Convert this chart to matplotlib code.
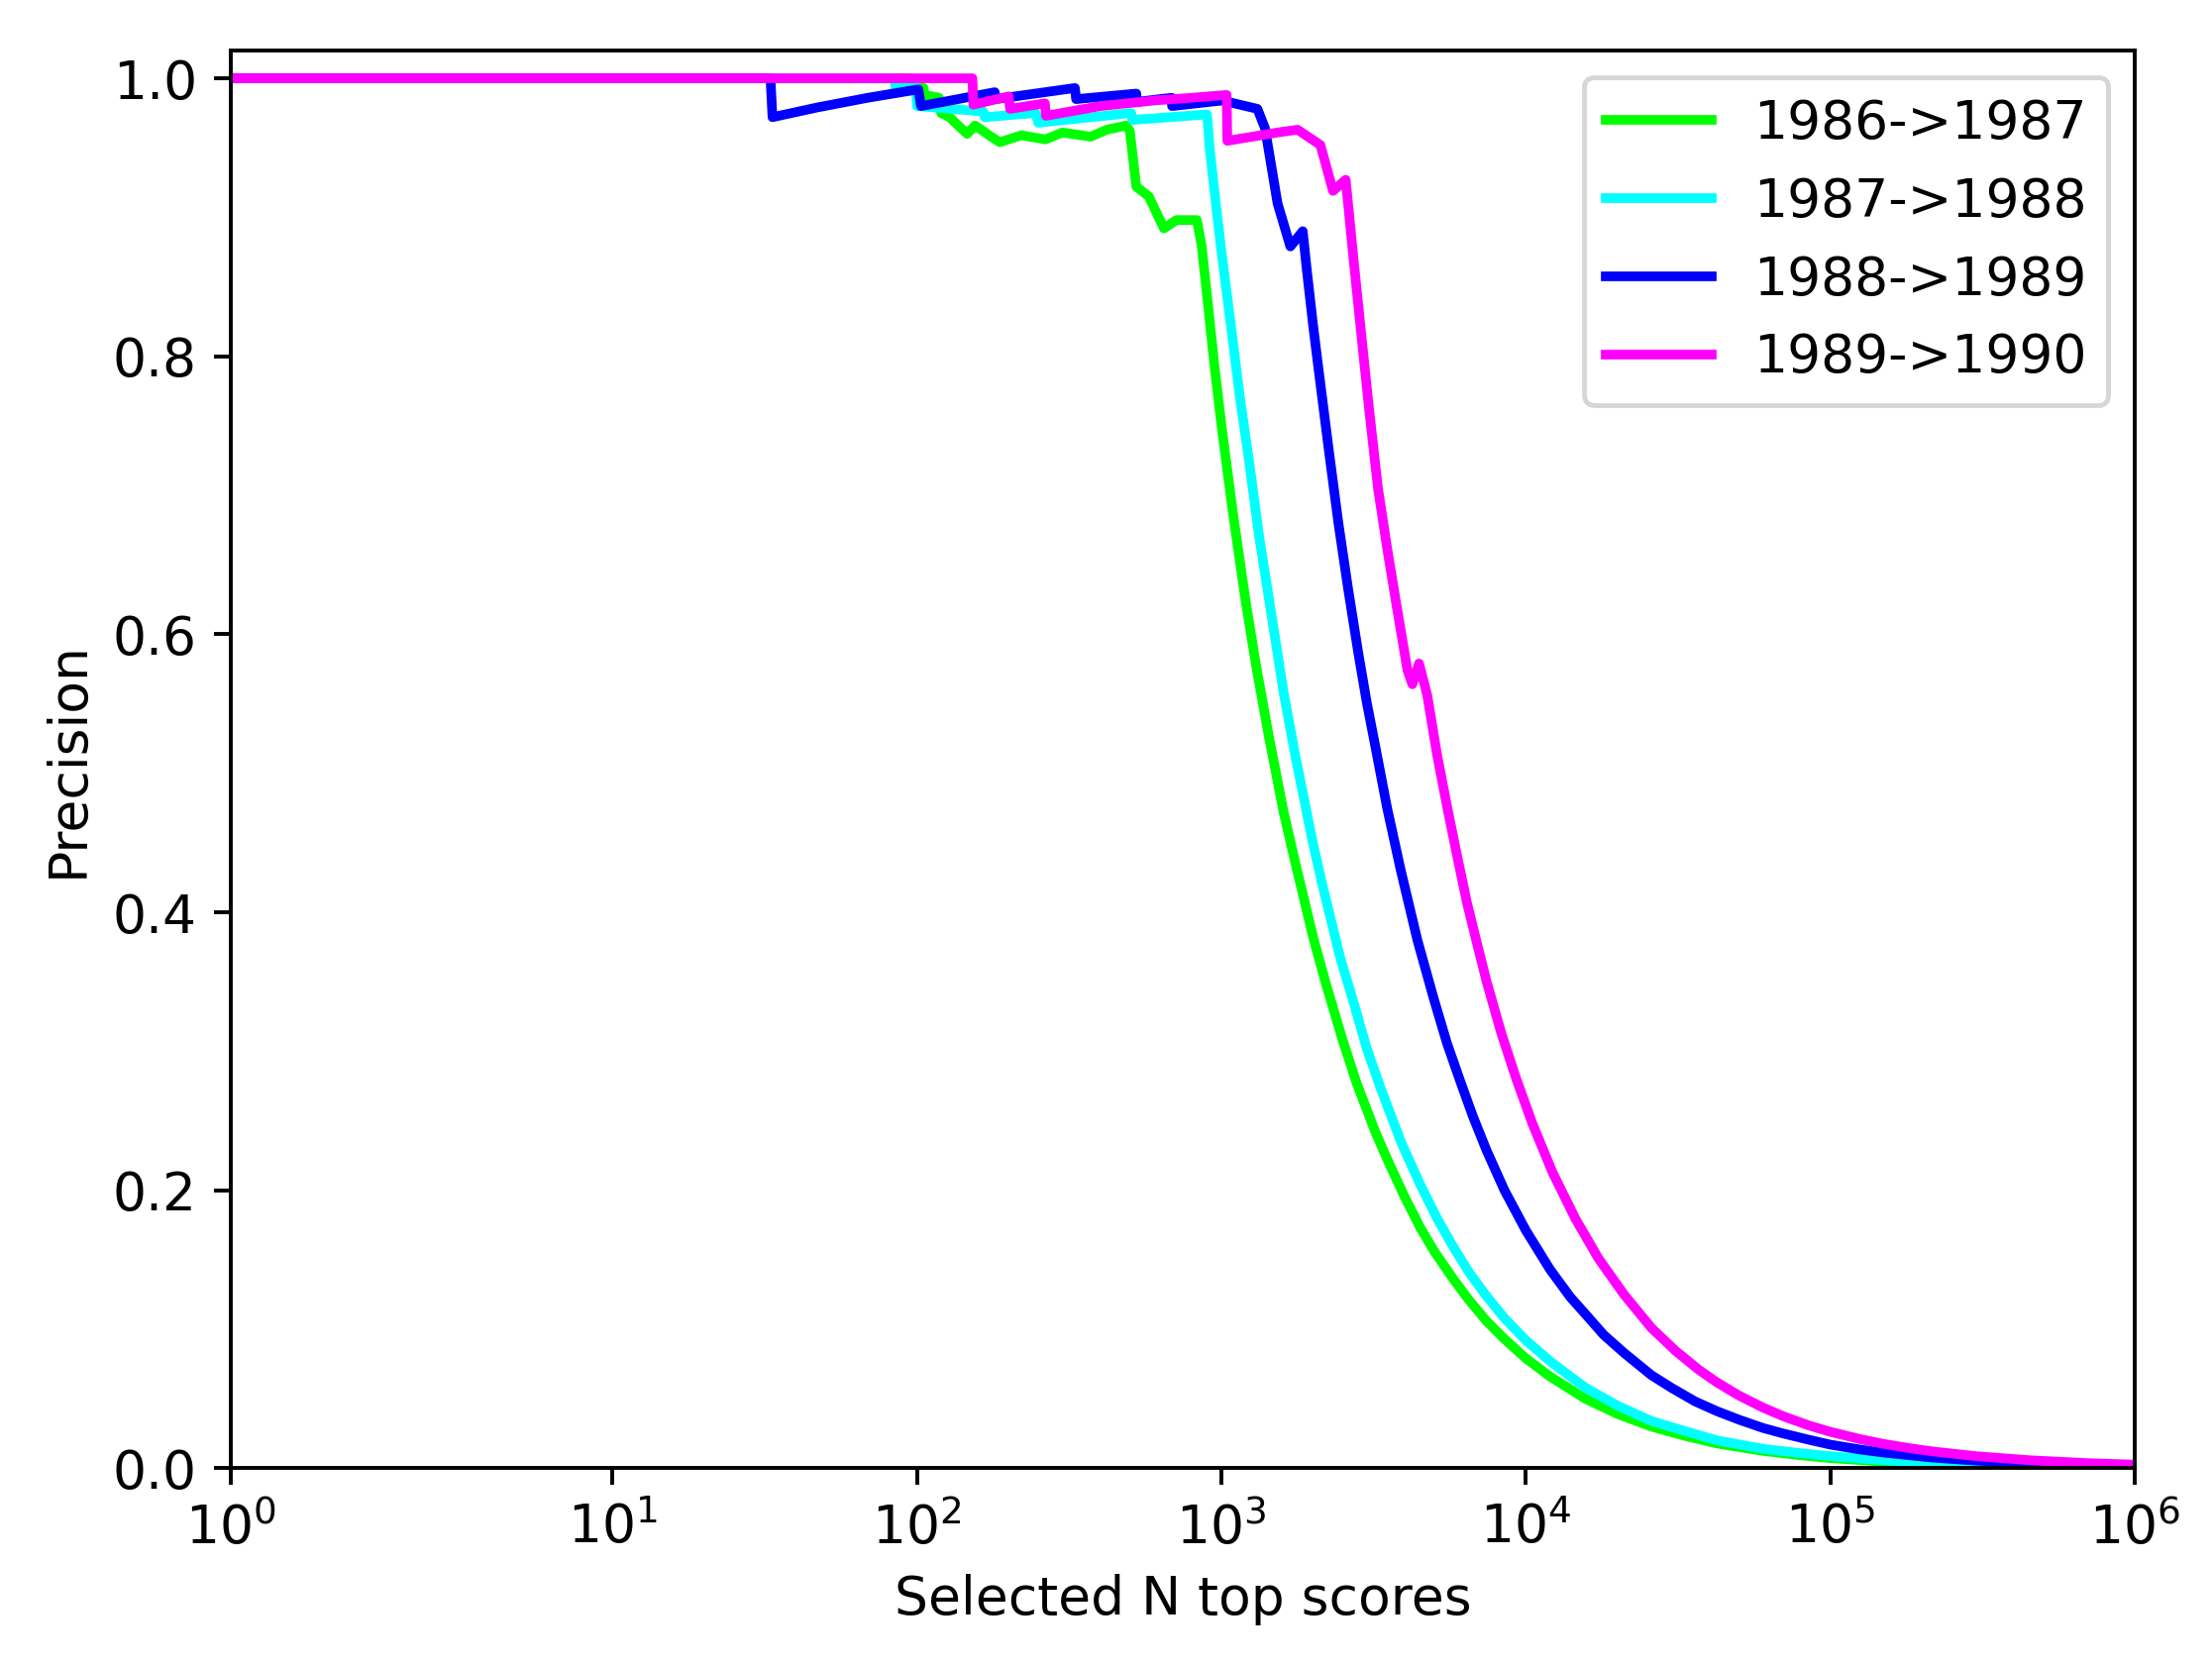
import matplotlib
matplotlib.use("Agg")
import matplotlib.pyplot as plt

# =========================
# DATA
# =========================
labels = ["1986->1987", "1987->1988", "1988->1989", "1989->1990"]
colors = ["#00ff00", "#00ffff", "#0000ff", "#ff00ff"]

n_8687 = [1, 94, 95, 105, 106, 118, 120, 128, 135, 146, 155, 165, 175, 187,
          220, 264, 300, 372, 420, 486, 500, 525, 577, 647, 711, 830, 860,
          895, 946, 1000, 1089, 1200, 1300, 1432, 1600, 1750, 2000, 2193,
          2500, 2780, 3200, 3508, 4000, 4498, 5000, 5781, 6500, 7413, 8500,
          10000, 12000, 15670, 20000, 25820, 33000, 42460, 60000, 80000,
          100000, 148000, 215000, 300000, 500000, 1000000]
p_8687 = [1.0, 1.0, 0.993, 0.993, 0.988, 0.986, 0.975, 0.972, 0.967, 0.960,
          0.966, 0.962, 0.958, 0.954, 0.959, 0.956, 0.961, 0.958, 0.963,
          0.966, 0.962, 0.922, 0.915, 0.892, 0.898, 0.898, 0.880, 0.845,
          0.795, 0.750, 0.688, 0.624, 0.577, 0.526, 0.472, 0.435, 0.382,
          0.350, 0.308, 0.277, 0.242, 0.222, 0.195, 0.173, 0.156, 0.136,
          0.121, 0.106, 0.093, 0.079, 0.066, 0.050, 0.039, 0.030, 0.0235,
          0.0178, 0.0125, 0.0093, 0.0073, 0.0048, 0.0034, 0.0024, 0.0015,
          0.0008]

n_8788 = [1, 84, 85, 99, 100, 130, 165, 167, 245, 250, 505, 510, 895, 900,
          914, 966, 1000, 1084, 1150, 1233, 1330, 1469, 1600, 1750, 2000,
          2138, 2450, 2742, 3000, 3350, 3900, 4498, 5100, 5781, 6500, 7413,
          8500, 10000, 12000, 15670, 20000, 25820, 33000, 42460, 60000,
          80000, 100000, 148000, 215000, 300000, 500000, 1000000]
p_8788 = [1.0, 1.0, 0.993, 0.994, 0.980, 0.978, 0.976, 0.972, 0.975, 0.968,
          0.975, 0.970, 0.974, 0.970, 0.950, 0.903, 0.875, 0.815, 0.770,
          0.724, 0.670, 0.610, 0.558, 0.512, 0.449, 0.421, 0.368, 0.332,
          0.302, 0.272, 0.234, 0.204, 0.180, 0.159, 0.141, 0.124, 0.108,
          0.092, 0.077, 0.058, 0.045, 0.034, 0.027, 0.020, 0.014, 0.0108,
          0.0087, 0.0058, 0.0040, 0.0029, 0.0018, 0.0009]

n_8889 = [1, 33, 33.5, 47, 69, 101, 103, 180, 181, 330, 333, 525, 527, 686,
          688, 1005, 1312, 1390, 1528, 1683, 1849, 1900, 2000, 2077, 2250,
          2421, 2600, 2812, 3000, 3184, 3500, 3882, 4400, 4977, 5500, 6095,
          6700, 7413, 8500, 10000, 12000, 14000, 15670, 18000, 21000, 25820,
          30000, 36000, 42460, 50000, 60000, 70000, 85000, 100000, 125000,
          148000, 215000, 300000, 456000, 700000, 1000000]
p_8889 = [1.0, 1.0, 0.972, 0.979, 0.986, 0.992, 0.980, 0.990, 0.985, 0.993,
          0.985, 0.989, 0.983, 0.986, 0.980, 0.984, 0.978, 0.964, 0.910,
          0.879, 0.890, 0.865, 0.822, 0.793, 0.733, 0.680, 0.634, 0.587,
          0.551, 0.522, 0.475, 0.430, 0.380, 0.338, 0.306, 0.278, 0.253,
          0.229, 0.200, 0.171, 0.143, 0.123, 0.111, 0.096, 0.083, 0.067,
          0.058, 0.048, 0.041, 0.035, 0.029, 0.025, 0.0205, 0.0170, 0.0135,
          0.0114, 0.0077, 0.0055, 0.0036, 0.0024, 0.0017]

n_8990 = [1, 152, 153, 200, 202, 263, 265, 400, 600, 800, 1040, 1045, 1528,
          1778, 2113, 2324, 2559, 2700, 2884, 3050, 3266, 3500, 3744, 4083,
          4236, 4455, 4742, 5100, 5508, 5950, 6400, 6900, 7430, 8300, 9300,
          10500, 12220, 14500, 17300, 21000, 25820, 31000, 37000, 42460,
          50000, 60000, 70000, 85000, 100000, 125000, 148000, 180000, 215000,
          300000, 456000, 700000, 1000000]
p_8990 = [1.0, 1.0, 0.981, 0.987, 0.978, 0.982, 0.973, 0.980, 0.984, 0.986,
          0.988, 0.955, 0.961, 0.963, 0.952, 0.919, 0.927, 0.875, 0.814,
          0.763, 0.705, 0.662, 0.623, 0.574, 0.564, 0.579, 0.556, 0.514,
          0.476, 0.440, 0.407, 0.378, 0.350, 0.313, 0.280, 0.248, 0.213,
          0.180, 0.151, 0.125, 0.101, 0.0845, 0.0708, 0.0617, 0.0524,
          0.0437, 0.0374, 0.0308, 0.0262, 0.0210, 0.0177, 0.0146, 0.0122,
          0.0087, 0.0057, 0.0037, 0.0026]

series = [(n_8687, p_8687), (n_8788, p_8788), (n_8889, p_8889), (n_8990, p_8990)]

# =========================
# PLOT
# =========================
fig = plt.figure(figsize=(2233 / 350, 1682 / 350), dpi=350)
ax = fig.add_axes([0.1043, 0.1187, 0.8608, 0.851])

for (n, p), lab, col in zip(series, labels, colors):
    ax.plot(n, p, color=col, label=lab, linewidth=2)

ax.set_xscale("symlog")
ax.set_xlim(1, 1e6)
ax.set_ylim(0, 1.02)

ax.set_xlabel("Selected N top scores", fontsize=11)
ax.set_ylabel("Precision", fontsize=11)
ax.tick_params(labelsize=11)
ax.legend(loc="upper right", fontsize=11)

fig.savefig("out.png", dpi=350)
